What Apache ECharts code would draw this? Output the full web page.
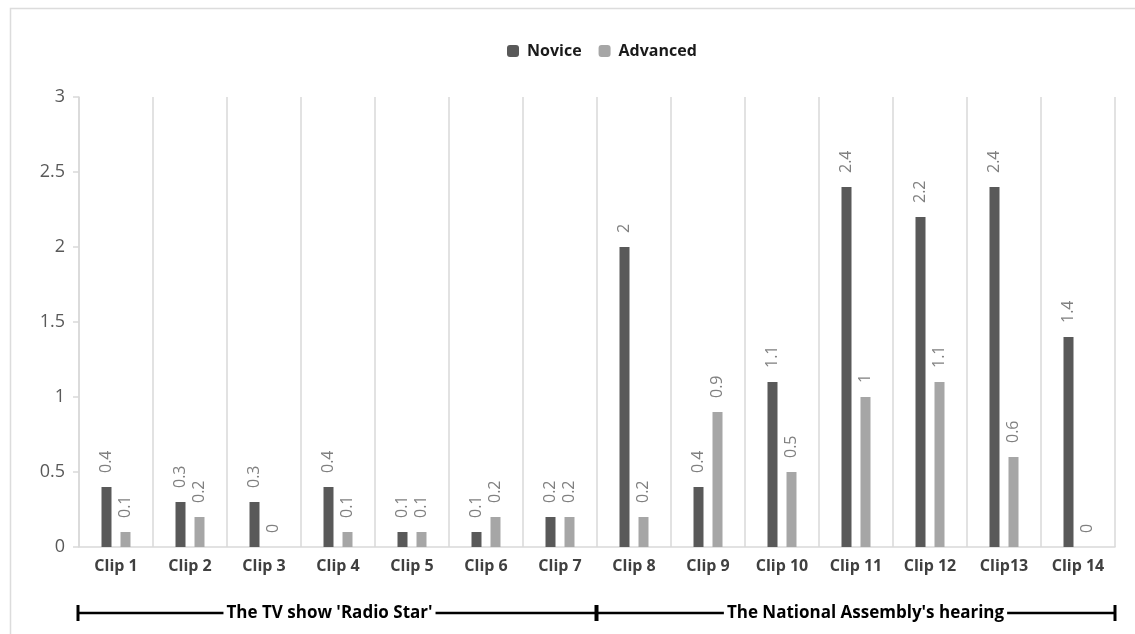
<!DOCTYPE html>
<html>
<head>
<meta charset="utf-8">
<script src="https://cdn.jsdelivr.net/npm/echarts@6/dist/echarts.min.js"></script>
<style>
html,body{margin:0;padding:0;background:#fff;}
#chart{width:1135px;height:634px;}
</style>
</head>
<body>
<div id="chart"></div>
<script>
const categories = ['Clip 1','Clip 2','Clip 3','Clip 4','Clip 5','Clip 6','Clip 7','Clip 8','Clip 9','Clip 10','Clip 11','Clip 12','Clip13','Clip 14'];
const novice   = [0.4,0.3,0.3,0.4,0.1,0.1,0.2,2,0.4,1.1,2.4,2.2,2.4,1.4];
const advanced = [0.1,0.2,0,0.1,0.1,0.2,0.2,0.2,0.9,0.5,1,1.1,0.6,0];
const yTicks = [0,0.5,1,1.5,2,2.5,3];
const groups = [
  {name:"The TV show 'Radio Star'", from:0, to:6},
  {name:"The National Assembly's hearing", from:7, to:13}
];

const FONT = "'Open Sans', 'Noto Sans', sans-serif";
const chart = echarts.init(document.getElementById('chart'), null, {renderer:'canvas'});

const labelCfg = {
  show:true, position:'top', rotate:90, align:'left', verticalAlign:'middle',
  distance:14, color:'#808080', fontSize:16, fontFamily:FONT
};

chart.setOption({
  backgroundColor:'#fff',
  animation:false,
  legend:{
    top:38, left:502, itemWidth:12, itemHeight:12, itemGap:17,
    textStyle:{fontSize:16, fontWeight:'bold', color:'#1a1a1a', fontFamily:FONT, padding:[0,0,0,3]},
    data:['Novice','Advanced']
  },
  grid:{left:79, right:20, top:97, bottom:87, containLabel:false},
  xAxis:{
    type:'category', data:categories,
    axisLine:{lineStyle:{color:'#d9d9d9', width:1.5}},
    axisTick:{show:false},
    axisLabel:{color:'#404040', fontSize:16, fontWeight:'bold', fontFamily:FONT, margin:11, interval:0},
    splitLine:{show:true, interval:0, lineStyle:{color:'#d9d9d9', width:1.5}}
  },
  yAxis:{
    type:'value', min:0, max:3, interval:0.5,
    axisLine:{show:true, lineStyle:{color:'#d9d9d9', width:1.5}},
    axisTick:{show:true, length:6, lineStyle:{color:'#d9d9d9', width:1.5}},
    axisLabel:{color:'#595959', fontSize:18, fontFamily:FONT, margin:14,
      formatter:function(v){ return yTicks.indexOf(v) >= 0 ? String(v) : ''; }},
    splitLine:{show:false}
  },
  series:[
    {name:'Novice', type:'bar', data:novice, barWidth:10, barGap:'90%',
      itemStyle:{color:'#595959'}, label:labelCfg},
    {name:'Advanced', type:'bar', data:advanced, barWidth:10, barGap:'90%',
      itemStyle:{color:'#a6a6a6'}, label:labelCfg}
  ]
});

// border frame and group brackets placed via axis scale
function drawExtras(){
  const half = 0.5;
  const textShift = [-8, 10];
  const y0 = chart.convertToPixel({yAxisIndex:0}, 0);
  const bracketY = y0 + 66;
  const elements = [
    {type:'rect', shape:{x:10.5, y:8.5, width:1200, height:700}, silent:true,
     style:{fill:'none', stroke:'#dcdcdc', lineWidth:1.5}, z:-1}
  ];
  const step = chart.convertToPixel({xAxisIndex:0}, categories[1]) - chart.convertToPixel({xAxisIndex:0}, categories[0]);
  groups.forEach(function(g, i){
    const x1 = chart.convertToPixel({xAxisIndex:0}, categories[g.from]) - step*half - 1;
    const x2 = chart.convertToPixel({xAxisIndex:0}, categories[g.to]) + step*half;
    elements.push({type:'line', shape:{x1:x1, y1:bracketY, x2:x2, y2:bracketY}, style:{stroke:'#000', lineWidth:2.5}});
    elements.push({type:'line', shape:{x1:x1, y1:bracketY-8, x2:x1, y2:bracketY+8}, style:{stroke:'#000', lineWidth:3}});
    elements.push({type:'line', shape:{x1:x2, y1:bracketY-8, x2:x2, y2:bracketY+8}, style:{stroke:'#000', lineWidth:3}});
    elements.push({type:'text', x:(x1+x2)/2 + textShift[i], y:bracketY, z:10,
      style:{text:g.name, fill:'#000', font:'bold 17px ' + FONT, align:'center', verticalAlign:'middle',
        backgroundColor:'#fff', padding:[0,3]}});
  });
  chart.setOption({graphic:{elements:elements}});
}
drawExtras();
</script>
</body>
</html>
